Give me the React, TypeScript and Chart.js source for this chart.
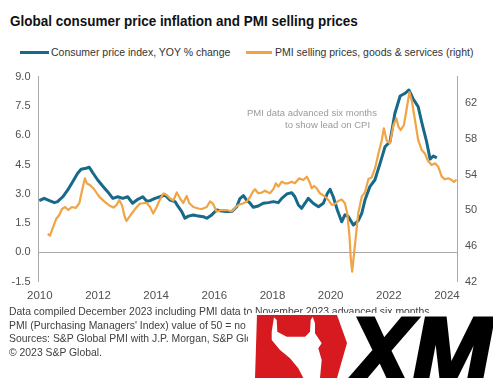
import React, { useEffect, useRef } from 'react';
import { Chart, registerables } from 'chart.js';

Chart.register(...registerables);

// ---- data (decimal years) ----
const cpiDates = [
  2009.98, 2010.15, 2010.33, 2010.5, 2010.61, 2010.79, 2010.96, 2011.13, 2011.3, 2011.42,
  2011.59, 2011.7, 2011.82, 2011.99, 2012.16, 2012.33, 2012.51, 2012.68, 2012.85, 2013.02,
  2013.19, 2013.37, 2013.54, 2013.67, 2013.79, 2013.96, 2014.13, 2014.3, 2014.48, 2014.65,
  2014.76, 2014.88, 2014.99, 2015.11, 2015.28, 2015.45, 2015.62, 2015.74, 2015.91, 2016.08,
  2016.25, 2016.43, 2016.6, 2016.77, 2016.88, 2017.0, 2017.11, 2017.23, 2017.34, 2017.51,
  2017.68, 2017.86, 2018.03, 2018.2, 2018.32, 2018.49, 2018.66, 2018.77, 2018.89, 2019.0,
  2019.12, 2019.23, 2019.4, 2019.58, 2019.75, 2019.89, 2019.98, 2020.09, 2020.23, 2020.38,
  2020.49, 2020.61, 2020.78, 2020.95, 2021.07, 2021.18, 2021.35, 2021.52, 2021.7, 2021.87,
  2022.04, 2022.21, 2022.39, 2022.56, 2022.69, 2022.84, 2023.01, 2023.13, 2023.3, 2023.42,
  2023.53, 2023.65,
];
const cpiValues = [
  2.65, 2.77, 2.65, 2.55, 2.6, 2.85, 3.2, 3.62, 4.05, 4.26,
  4.31, 4.36, 4.08, 3.71, 3.4, 3.11, 2.77, 2.85, 2.77, 2.85,
  2.52, 2.72, 2.85, 2.63, 2.65, 2.77, 2.85, 2.94, 2.68, 2.6,
  2.34, 2.09, 1.75, 1.86, 1.92, 1.86, 1.83, 1.75, 1.92, 2.17,
  2.12, 2.09, 2.09, 2.34, 2.76, 2.91, 2.68, 2.52, 2.31, 2.38,
  2.52, 2.55, 2.6, 2.55, 2.77, 2.99, 3.06, 2.85, 2.43, 2.26,
  2.52, 2.77, 2.52, 2.34, 2.52, 3.03, 3.23, 2.85, 2.17, 1.57,
  1.92, 1.83, 1.4, 1.63, 2.0, 2.68, 3.37, 3.71, 4.56, 5.41,
  5.67, 7.13, 8.01, 8.15, 8.32, 7.86, 7.46, 6.68, 5.67, 4.78,
  4.94, 4.84,
];
const pmiDates = [
  2010.27, 2010.35, 2010.44, 2010.56, 2010.67, 2010.76, 2010.87, 2010.98, 2011.1, 2011.24,
  2011.36, 2011.47, 2011.55, 2011.62, 2011.72, 2011.86, 2012.04, 2012.22, 2012.39, 2012.53,
  2012.64, 2012.73, 2012.83, 2012.91, 2012.98, 2013.12, 2013.29, 2013.44, 2013.56, 2013.67,
  2013.79, 2013.9, 2014.02, 2014.13, 2014.25, 2014.36, 2014.48, 2014.59, 2014.71, 2014.82,
  2014.93, 2015.05, 2015.14, 2015.28, 2015.45, 2015.57, 2015.74, 2015.85, 2015.96, 2016.08,
  2016.23, 2016.43, 2016.6, 2016.71, 2016.82, 2017.0, 2017.11, 2017.23, 2017.33, 2017.4,
  2017.51, 2017.63, 2017.74, 2017.91, 2018.03, 2018.12, 2018.2, 2018.32, 2018.43, 2018.54,
  2018.66, 2018.77, 2018.92, 2019.06, 2019.18, 2019.27, 2019.35, 2019.43, 2019.52, 2019.63,
  2019.81, 2019.92, 2020.04, 2020.15, 2020.26, 2020.38, 2020.49, 2020.57, 2020.65, 2020.69,
  2020.74, 2020.84, 2020.95, 2021.07, 2021.18, 2021.3, 2021.41, 2021.53, 2021.64, 2021.76,
  2021.83, 2021.93, 2022.04, 2022.16, 2022.26, 2022.33, 2022.41, 2022.52, 2022.62, 2022.71,
  2022.8, 2022.9, 2023.01, 2023.13, 2023.24, 2023.35, 2023.47, 2023.59, 2023.7, 2023.82,
  2023.93, 2024.05, 2024.16, 2024.24, 2024.33,
];
const pmiValues = [
  47.35, 47.18, 47.99, 49.03, 49.48, 50.16, 50.38, 50.04, 50.38, 50.27,
  50.83, 52.51, 53.6, 53.02, 52.85, 52.4, 51.54, 50.98, 50.55, 50.32,
  50.61, 51.17, 50.55, 49.37, 48.81, 49.48, 50.21, 50.77, 50.8, 50.86,
  50.38, 49.65, 50.41, 51.24, 51.9, 51.73, 51.33, 51.11, 52.01, 51.36,
  50.83, 51.62, 50.8, 50.38, 50.21, 50.16, 50.38, 51.0, 50.72, 49.85,
  50.04, 50.04, 49.88, 50.27, 50.61, 50.8, 50.98, 51.5, 52.12, 52.37,
  51.92, 51.99, 52.21, 51.92, 52.37, 53.04, 52.66, 53.22, 53.04, 53.04,
  53.22, 53.04, 53.6, 53.41, 53.78, 53.22, 52.48, 52.74, 52.48, 51.92,
  51.54, 51.17, 50.61, 50.72, 51.05, 51.22, 50.8, 49.67, 47.05, 44.66,
  43.12, 46.23, 49.71, 51.54, 52.01, 53.52, 53.69, 54.76, 56.33, 57.9,
  59.21, 57.79, 57.53, 59.58, 60.33, 59.39, 59.02, 59.58, 61.49, 63.28,
  62.16, 60.14, 57.9, 56.78, 56.38, 55.54, 55.09, 55.28, 54.9, 53.78,
  53.49, 53.6, 53.41, 53.19, 53.47,
];
const xTickYears = [2010, 2012, 2014, 2016, 2018, 2020, 2022, 2024];
const leftTicks = [-1.5, 0, 1.5, 3, 4.5, 6, 7.5, 9];
const rightTicks = [42, 46, 50, 54, 58, 62];

const cpiLabel = 'Consumer price index, YOY % change';
const pmiLabel = 'PMI selling prices, goods & services (right)';
const titleText = 'Global consumer price inflation and PMI selling prices';
const noteLines = [
  'PMI data advanced six months',
  'to show lead on CPI',
];
const footLines = [
  'Data compiled December 2023 including PMI data to November 2023 advanced six months.',
  "PMI (Purchasing Managers' Index) value of 50 = no change.",
  'Sources: S&P Global PMI with J.P. Morgan, S&P Global Market Intelligence.',
  '\u00A9 2023 S&P Global.',
];

const FONT = "'Liberation Sans', Arial, Helvetica, sans-serif";
const BLUE = '#17698a';
const ORANGE = '#f0a445';
const AXIS = '#a9a9a9';
const TICK = '#505050';

export default function App() {
  const ref = useRef<HTMLCanvasElement>(null);

  useEffect(() => {
    const canvas = ref.current;
    if (!canvas) return;
    const chart = new Chart(canvas, {
      type: 'line',
      data: {
        datasets: [
          {
            label: cpiLabel,
            data: cpiDates.map((d, i) => ({ x: d, y: cpiValues[i] })),
            borderColor: BLUE,
            backgroundColor: BLUE,
            borderWidth: 3,
            pointRadius: 0,
            tension: 0,
            borderJoinStyle: 'round',
            yAxisID: 'yL',
            order: 1,
          },
          {
            label: pmiLabel,
            data: pmiDates.map((d, i) => ({ x: d, y: pmiValues[i] })),
            borderColor: ORANGE,
            backgroundColor: ORANGE,
            borderWidth: 2.2,
            pointRadius: 0,
            tension: 0,
            borderJoinStyle: 'round',
            yAxisID: 'yR',
            order: 0,
          },
        ],
      },
      options: {
        responsive: false,
        animation: false,
        events: [],
        layout: { padding: { top: 16.7, left: 0, right: 0, bottom: 0 } },
        plugins: {
          legend: { display: false },
          title: { display: false },
          tooltip: { enabled: false },
        },
        scales: {
          x: {
            type: 'linear',
            min: 2009.954,
            max: 2024.345,
            afterBuildTicks: (s: any) => {
              s.ticks = xTickYears.map((v) => ({ value: v }));
            },
            afterFit: (s: any) => {
              s.height = 28.3;
            },
            ticks: {
              autoSkip: false,
              maxRotation: 0,
              padding: 7,
              color: TICK,
              font: { family: FONT, size: 11.5 },
              callback: (v: any) => String(v),
            },
            grid: { display: false, drawTicks: false },
            border: { display: false },
          },
          yL: {
            type: 'linear',
            position: 'left',
            min: -1.5,
            max: 9,
            afterBuildTicks: (s: any) => {
              s.ticks = leftTicks.map((v) => ({ value: v }));
            },
            afterFit: (s: any) => {
              s.width = 38.5;
            },
            ticks: {
              padding: 8,
              color: TICK,
              font: { family: FONT, size: 11 },
              callback: (v: any) => Number(v).toFixed(1),
            },
            grid: {
              display: true,
              drawTicks: false,
              lineWidth: 1,
              color: (ctx: any) => (ctx.tick && ctx.tick.value === 0 ? AXIS : 'rgba(0,0,0,0)'),
            },
            border: { display: true, color: AXIS, width: 1 },
          },
          yR: {
            type: 'linear',
            position: 'right',
            min: 42,
            max: 65,
            afterBuildTicks: (s: any) => {
              s.ticks = rightTicks.map((v) => ({ value: v }));
            },
            afterFit: (s: any) => {
              s.width = 36;
            },
            ticks: {
              padding: 8,
              color: TICK,
              font: { family: FONT, size: 11 },
              callback: (v: any) => String(v),
            },
            grid: { display: false, drawTicks: false },
            border: { display: true, color: AXIS, width: 1 },
          },
        },
      },
    } as any);
    return () => chart.destroy();
  }, []);

  const abs = (left: number, top: number, extra: any = {}) => ({
    position: 'absolute' as const,
    left,
    top,
    whiteSpace: 'nowrap' as const,
    lineHeight: 1,
    ...extra,
  });

  return (
    <div
      style={{
        position: 'absolute',
        left: 0,
        top: 0,
        width: 493,
        height: 378,
        background: '#ffffff',
        overflow: 'hidden',
        fontFamily: FONT,
      }}
    >
      <div
        style={abs(10, 14, {
          fontSize: 14.5,
          fontWeight: 700,
          color: '#111',
          transform: 'scaleX(0.93)',
          transformOrigin: 'left center',
        })}
      >
        {titleText}
      </div>

      <div style={abs(20, 50.5, { width: 29, height: 3, background: BLUE })} />
      <div style={abs(51, 47.1, { fontSize: 10.5, color: '#333' })}>{cpiLabel}</div>
      <div style={abs(246, 50.5, { width: 26, height: 3, background: ORANGE })} />
      <div style={abs(275, 47.1, { fontSize: 10.5, color: '#333' })}>{pmiLabel}</div>

      <canvas
        ref={ref}
        width={493}
        height={250}
        style={{ position: 'absolute', left: 0, top: 60, width: 493, height: 250 }}
      />

      <div style={abs(247, 108.3, { fontSize: 9.5, color: '#9a9a9a' })}>{noteLines[0]}</div>
      <div style={abs(285, 120.3, { fontSize: 9.5, color: '#9a9a9a' })}>{noteLines[1]}</div>

      {footLines.map((t, i) => (
        <div key={i} style={abs(9, 306.9 + i * 13.6, { fontSize: 10.4, color: '#404040' })}>
          {t}
        </div>
      ))}

      <svg
        width={245}
        height={65}
        viewBox="0 0 245 65"
        style={{ position: 'absolute', left: 248, top: 313 }}
      >
        <rect x={0} y={0} width={245} height={65} fill="#ffffff" />
        <polygon points="9,2 89,2 99,30 89,65 7,65" fill="#d71920" />
        <path
          d="M23.7,18.7 L26,4.3 L28.7,7 L29.3,18.7 L38.7,23.7 L57,23.7 L62,18.7 L62.7,7 L64.7,3.7 L67,10.3 L67,20.3 L73.7,30.3 L70.3,35.3 L73.7,47 L72,65 L55.3,65 L50.3,55.3 L42,45.3 L32,37 L23.7,27 Z"
          fill="#ffffff"
        />
        <text
          x={101}
          y={72}
          fontSize={96}
          fontWeight={700}
          fontStyle="italic"
          fontFamily={FONT}
          fill="#000000"
          stroke="#000000"
          strokeWidth={4}
          strokeLinejoin="miter"
          textLength={142}
          lengthAdjust="spacingAndGlyphs"
        >
          XM
        </text>
      </svg>
    </div>
  );
}
